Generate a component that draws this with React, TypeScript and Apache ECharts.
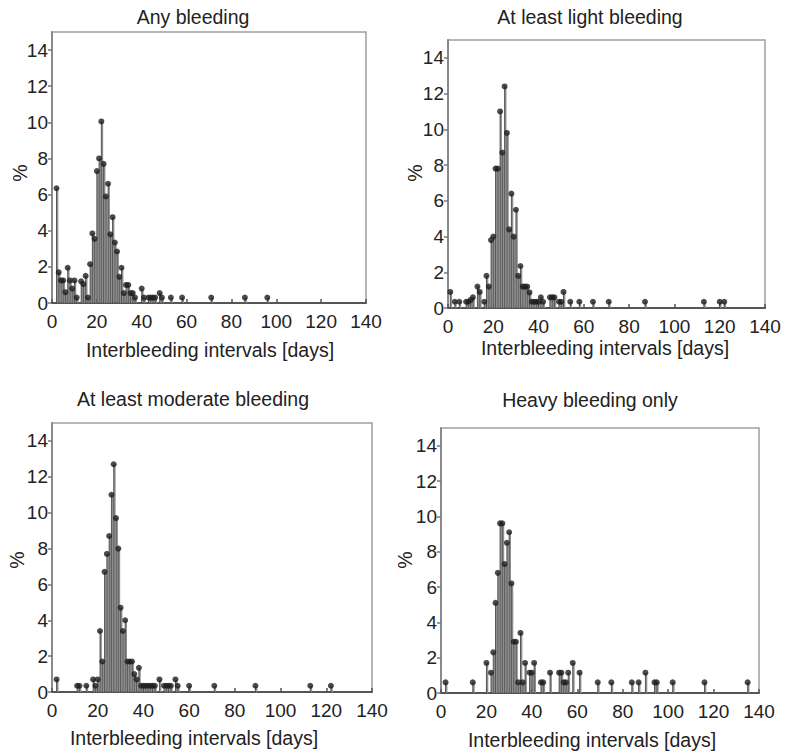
import React, { useEffect, useRef } from "react";
import * as echarts from "echarts";

const panelTitles = [
  "Any bleeding",
  "At least light bleeding",
  "At least moderate bleeding",
  "Heavy bleeding only",
];
const xAxisName = "Interbleeding intervals [days]";
const yAxisName = "%";
const yTicks = [0, 2, 4, 6, 8, 10, 12, 14];

const anyDays = [2, 3, 4, 5, 6, 7, 8, 9, 10, 11, 13, 14, 15, 16, 17, 18, 19, 20, 21, 22, 23, 24, 25, 26, 27, 28, 29, 30, 31, 32, 33, 34, 35, 36, 37, 40, 41, 43, 44, 45, 46, 48, 49, 53, 58, 71, 86, 96];
const anyValues = [6.35, 1.7, 1.25, 1.25, 0.6, 1.95, 1.25, 0.8, 1.25, 0.3, 1.2, 1.05, 1.5, 0.3, 2.15, 3.85, 3.55, 7.3, 8.0, 10.05, 7.7, 5.9, 6.6, 3.8, 4.75, 3.35, 2.85, 1.45, 1.95, 0.55, 1.0, 1.0, 0.55, 0.55, 0.3, 0.8, 0.3, 0.3, 0.3, 0.3, 0.3, 0.55, 0.3, 0.3, 0.3, 0.3, 0.3, 0.3];

const lightDays = [1, 3, 5, 8, 9, 10, 11, 13, 14, 16, 17, 18, 19, 20, 21, 22, 23, 24, 25, 26, 27, 28, 29, 30, 31, 32, 33, 34, 35, 36, 37, 38, 39, 40, 41, 42, 45, 46, 47, 49, 50, 51, 54, 58, 64, 71, 87, 113, 120, 122];
const lightValues = [0.9, 0.35, 0.35, 0.35, 0.35, 0.45, 0.6, 1.2, 0.9, 0.35, 1.8, 1.2, 3.8, 4.0, 7.8, 7.8, 11.0, 8.7, 12.4, 9.8, 4.4, 6.4, 4.0, 5.5, 1.8, 2.35, 1.2, 1.2, 1.2, 0.87, 0.35, 0.35, 0.35, 0.35, 0.6, 0.35, 0.6, 0.6, 0.6, 0.35, 0.35, 0.9, 0.35, 0.35, 0.35, 0.35, 0.35, 0.35, 0.35, 0.35];

const moderateDays = [2, 11, 12, 15, 18, 19, 20, 21, 22, 23, 24, 25, 26, 27, 28, 29, 30, 31, 32, 33, 34, 35, 36, 37, 38, 39, 40, 41, 42, 43, 44, 45, 47, 49, 50, 51, 52, 54, 55, 60, 71, 89, 113, 122];
const moderateValues = [0.7, 0.35, 0.35, 0.35, 0.7, 0.35, 0.7, 3.4, 1.7, 6.7, 7.7, 8.7, 11.0, 12.7, 9.7, 8.0, 4.7, 3.4, 4.0, 1.7, 1.7, 1.7, 1.0, 0.7, 1.35, 0.35, 0.35, 0.35, 0.35, 0.35, 0.35, 0.35, 0.7, 0.35, 0.35, 0.35, 0.35, 0.7, 0.35, 0.35, 0.35, 0.35, 0.35, 0.35];

const heavyDays = [2, 14, 20, 22, 23, 24, 25, 26, 27, 28, 29, 30, 31, 32, 33, 34, 35, 36, 37, 39, 40, 41, 44, 45, 48, 52, 53, 54, 55, 56, 58, 61, 69, 75, 84, 87, 90, 94, 95, 102, 116, 135];
const heavyValues = [0.6, 0.6, 1.7, 1.15, 2.3, 5.1, 6.8, 9.6, 9.6, 7.3, 8.5, 9.1, 6.2, 2.9, 2.9, 0.6, 3.4, 0.6, 1.7, 1.15, 1.15, 1.7, 0.6, 0.6, 1.15, 1.15, 1.15, 0.6, 0.6, 1.15, 1.7, 1.15, 0.6, 0.6, 0.6, 0.6, 1.15, 0.6, 0.6, 0.6, 0.6, 0.6];

const panelDays = [anyDays, lightDays, moderateDays, heavyDays];
const panelValues = [anyValues, lightValues, moderateValues, heavyValues];

// layout (page px)
const grids = [
  { left: 52, top: 32, width: 314, height: 271 },
  { left: 448, top: 40, width: 317, height: 268 },
  { left: 52, top: 423, width: 320, height: 269 },
  { left: 441, top: 428, width: 318, height: 265 },
];
const titlePos = [
  [193, 17],
  [590, 17],
  [193, 399],
  [590, 400],
];
const xNamePos = [
  [210, 350],
  [605, 348],
  [194, 738],
  [592, 740],
];
const yNamePos = [
  [20, 173],
  [415, 173],
  [17, 560],
  [405, 560],
];

const FONT = '"Liberation Sans", Arial, Helvetica, sans-serif';
const TXT = "#222";

export default function App() {
  const ref = useRef<HTMLDivElement>(null);
  useEffect(() => {
    document.body.style.margin = "0";
    const chart = echarts.init(ref.current!, undefined, { renderer: "svg" });

    const series: any[] = [];
    panelDays.forEach((days, i) => {
      const data = days.map((d, k) => [d, panelValues[i][k]]);
      series.push({
        type: "custom",
        xAxisIndex: i,
        yAxisIndex: i,
        data,
        z: 2,
        renderItem: (_p: any, api: any) => {
          const x = api.value(0);
          const y = api.value(1);
          const top = api.coord([x, y]);
          const base = api.coord([x, 0]);
          const w = api.size([1, 0])[0];
          return {
            type: "group",
            children: [
              {
                type: "rect",
                shape: { x: top[0], y: top[1], width: Math.max(w - 0.4, 1), height: base[1] - top[1] },
                style: { fill: "#8e8e8e" },
              },
              {
                type: "line",
                shape: { x1: top[0], y1: base[1], x2: top[0], y2: top[1] },
                style: { stroke: "#3a3a3a", lineWidth: 0.8 },
              },
            ],
          };
        },
      });
      series.push({
        type: "scatter",
        xAxisIndex: i,
        yAxisIndex: i,
        data,
        symbol: "circle",
        symbolSize: 6,
        itemStyle: { color: "#1e1e1e" },
        z: 3,
      });
    });

    const graphics: any[] = [];
    for (let i = 0; i < 4; i++) {
      graphics.push({
        type: "text",
        x: titlePos[i][0],
        y: titlePos[i][1],
        style: { text: panelTitles[i], font: `19.5px ${FONT}`, fill: TXT, textAlign: "center", textVerticalAlign: "middle" },
      });
      graphics.push({
        type: "text",
        x: xNamePos[i][0],
        y: xNamePos[i][1],
        style: { text: xAxisName, font: `19.5px ${FONT}`, fill: TXT, textAlign: "center", textVerticalAlign: "middle" },
      });
      graphics.push({
        type: "text",
        x: yNamePos[i][0],
        y: yNamePos[i][1],
        rotation: Math.PI / 2,
        style: { text: yAxisName, font: `19.5px ${FONT}`, fill: TXT, textAlign: "center", textVerticalAlign: "middle" },
      });
    }

    chart.setOption({
      animation: false,
      backgroundColor: "#fff",
      grid: grids.map((g) => ({ ...g, show: true, borderColor: "#a0a0a0", borderWidth: 1.5, backgroundColor: "transparent" })),
      xAxis: grids.map((_g, i) => ({
        type: "value",
        gridIndex: i,
        min: 0,
        max: 140,
        interval: 20,
        splitLine: { show: false },
        axisLine: { show: true, onZero: false, lineStyle: { color: "#555", width: 2 } },
        axisTick: { show: true, inside: true, length: 4, lineStyle: { color: "#555", width: 1.5 } },
        axisLabel: { color: TXT, fontSize: 19, fontFamily: FONT, margin: 9 },
      })),
      yAxis: grids.map((_g, i) => ({
        type: "value",
        gridIndex: i,
        min: 0,
        max: 15,
        interval: 2,
        splitLine: { show: false },
        axisLine: { show: true, lineStyle: { color: "#8a8a8a", width: 2 } },
        axisTick: { show: true, length: 4, customValues: yTicks, lineStyle: { color: "#777", width: 1.5 } },
        axisLabel: { color: TXT, fontSize: 19, fontFamily: FONT, margin: 4, customValues: yTicks },
      })),
      series,
      graphic: graphics,
    });
    return () => chart.dispose();
  }, []);
  return <div ref={ref} style={{ width: 785, height: 756 }} />;
}
